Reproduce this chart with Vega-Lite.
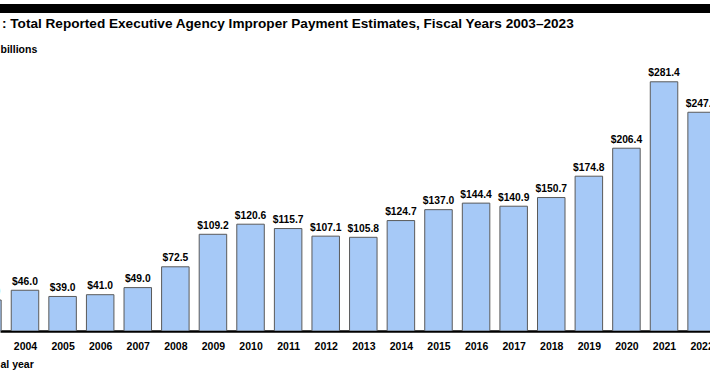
{
  "$schema": "https://vega.github.io/schema/vega-lite/v6.json",
  "width": 710,
  "height": 271,
  "autosize": "none",
  "padding": {"top": 60, "bottom": 44, "left": 0, "right": 0},
  "background": "white",
  "title": {
    "text": ": Total Reported Executive Agency Improper Payment Estimates, Fiscal Years 2003–2023",
    "anchor": "start",
    "frame": "group",
    "offset": 0,
    "baseline": "alphabetic",
    "dx": 2,
    "dy": 38,
    "font": "Liberation Sans",
    "fontSize": 13.6,
    "fontWeight": "bold",
    "color": "#000000"
  },
  "config": {"view": {"stroke": null}},
  "data": {
    "values": [
      {"year": 2003, "value": 35.0},
      {"year": 2004, "value": 46.0},
      {"year": 2005, "value": 39.0},
      {"year": 2006, "value": 41.0},
      {"year": 2007, "value": 49.0},
      {"year": 2008, "value": 72.5},
      {"year": 2009, "value": 109.2},
      {"year": 2010, "value": 120.6},
      {"year": 2011, "value": 115.7},
      {"year": 2012, "value": 107.1},
      {"year": 2013, "value": 105.8},
      {"year": 2014, "value": 124.7},
      {"year": 2015, "value": 137.0},
      {"year": 2016, "value": 144.4},
      {"year": 2017, "value": 140.9},
      {"year": 2018, "value": 150.7},
      {"year": 2019, "value": 174.8},
      {"year": 2020, "value": 206.4},
      {"year": 2021, "value": 281.4},
      {"year": 2022, "value": 247.0},
      {"year": 2023, "value": 236.0}
    ]
  },
  "layer": [
    {
      "mark": {"type": "rule", "color": "#000000", "strokeWidth": 9},
      "encoding": {
        "y": {"datum": 364.2, "type": "quantitative"}
      }
    },
    {
      "mark": {"type": "bar", "width": 27.5, "fill": "#A6C9F7", "stroke": "#5a5a5a", "strokeWidth": 1, "clip": true},
      "encoding": {
        "x": {
          "field": "year",
          "type": "quantitative",
          "scale": {"domain": [2003.335, 2022.223], "nice": false, "zero": false, "padding": 0},
          "axis": {
            "values": [2003, 2004, 2005, 2006, 2007, 2008, 2009, 2010, 2011, 2012, 2013, 2014, 2015, 2016, 2017, 2018, 2019, 2020, 2021, 2022, 2023],
            "format": "d",
            "ticks": false,
            "grid": false,
            "domain": true,
            "domainColor": "#000000",
            "domainWidth": 2.5,
            "labelFlush": false,
            "labelOverlap": false,
            "labelFont": "Liberation Sans",
            "labelFontSize": 10.5,
            "labelFontWeight": "bold",
            "labelColor": "#000000",
            "labelPadding": 10,
            "title": "al year",
            "titleFont": "Liberation Sans",
            "titleFontSize": 10.5,
            "titleFontWeight": "bold",
            "titleColor": "#000000",
            "titleAlign": "left",
            "titleBaseline": "alphabetic",
            "titleX": 0,
            "titleY": 36
          }
        },
        "y": {
          "field": "value",
          "type": "quantitative",
          "scale": {"domain": [0, 306], "nice": false},
          "axis": {
            "domain": false,
            "ticks": false,
            "labels": false,
            "grid": false,
            "title": "billions",
            "titleFont": "Liberation Sans",
            "titleFontSize": 10.5,
            "titleFontWeight": "bold",
            "titleColor": "#000000",
            "titleAngle": 0,
            "titleAlign": "left",
            "titleBaseline": "alphabetic",
            "titleX": 0,
            "titleY": -8
          }
        }
      }
    },
    {
      "mark": {"type": "text", "baseline": "alphabetic", "align": "center", "dy": -5.5, "font": "Liberation Sans", "fontSize": 10.3, "fontWeight": "bold", "color": "#000000", "clip": true},
      "encoding": {
        "x": {
          "field": "year",
          "type": "quantitative",
          "axis": {
            "values": [2003, 2004, 2005, 2006, 2007, 2008, 2009, 2010, 2011, 2012, 2013, 2014, 2015, 2016, 2017, 2018, 2019, 2020, 2021, 2022, 2023],
            "format": "d",
            "ticks": false,
            "grid": false,
            "domain": true,
            "domainColor": "#000000",
            "domainWidth": 2.5,
            "labelFlush": false,
            "labelOverlap": false,
            "labelFont": "Liberation Sans",
            "labelFontSize": 10.5,
            "labelFontWeight": "bold",
            "labelColor": "#000000",
            "labelPadding": 10,
            "title": "al year",
            "titleFont": "Liberation Sans",
            "titleFontSize": 10.5,
            "titleFontWeight": "bold",
            "titleColor": "#000000",
            "titleAlign": "left",
            "titleBaseline": "alphabetic",
            "titleX": 0,
            "titleY": 36
          }
        },
        "y": {"field": "value", "type": "quantitative"},
        "text": {"field": "value", "type": "quantitative", "format": "$.1f"}
      }
    }
  ]
}
